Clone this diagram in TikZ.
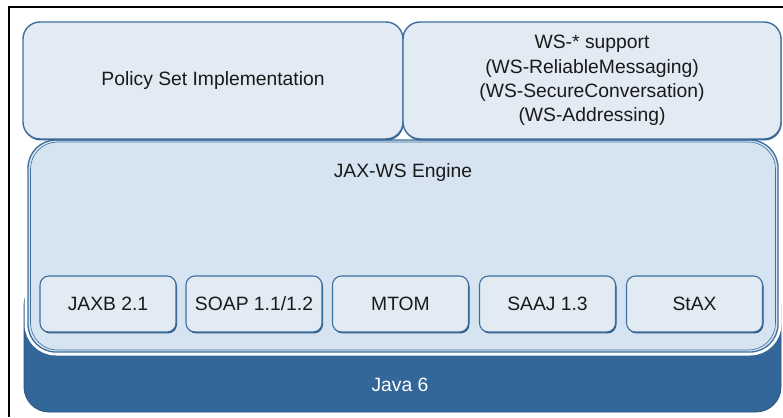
\documentclass[tikz,border=0pt]{standalone}
\usepackage{fontspec}
\setmainfont{Liberation Sans}
\usetikzlibrary{shadows}
\definecolor{boxfill}{HTML}{E2EAF4}
\definecolor{jaxfill}{HTML}{D6E4F1}
\definecolor{edge}{HTML}{3F6E9E}
\definecolor{edgedark}{HTML}{2A5580}
\definecolor{javablue}{HTML}{336699}
\definecolor{txt}{HTML}{1A1A1A}
\begin{document}
\begin{tikzpicture}[x=1pt,y=-1pt,
  every node/.style={inner sep=0pt, outer sep=0pt, text=txt, font=\fontsize{19.3}{24.3}\selectfont},
  topbox/.style={rectangle, fill=boxfill, draw=edge, line width=1.4pt, rounded corners=17pt,
    minimum width=#1, minimum height=117pt, align=center,
    drop shadow={shadow xshift=0.6pt, shadow yshift=-1.4pt, fill=edgedark, opacity=1}},
  smallbox/.style={rectangle, fill=boxfill, draw=edge, line width=1.1pt, rounded corners=9pt,
    minimum width=136pt, minimum height=56pt,
    drop shadow={shadow xshift=1pt, shadow yshift=-1.4pt, fill=edgedark, opacity=1}},
  engine/.style={rectangle, fill=jaxfill, draw=edge, line width=1.3pt, rounded corners=28pt,
    minimum width=750pt, minimum height=212pt},
  javabar/.style={rectangle, fill=javablue, draw=edgedark, line width=0.8pt, rounded corners=25pt,
    minimum width=757pt, minimum height=132pt},
  label/.style={text=txt}
]
\useasboundingbox (0,0) rectangle (783,417);
\fill[white] (0,0) rectangle (783,417);
% frame
\draw[line width=1.5pt, black] (783,7) -- (9,7) -- (9,417);
% Java 6 base
\node[javabar] (java) at (402.5,346) {};
% white outline around engine
\draw[white, line width=5pt, rounded corners=29pt] (27,140) rectangle (779,353);
% engine
\node[engine] (jax) at (403,246) {};
\draw[edge, line width=0.6pt, rounded corners=27pt] (30.5,142) rectangle (775.5,350);
\node[label] (jaxlbl) at (403,173) {JAX-WS Engine};
\node[text=white] (javalbl) at (400,385) {Java 6};
% top boxes
\node[topbox=380pt] (policy) at (213,80.5) {Policy Set Implementation};
\node[topbox=378pt] (ws) at (592,80.5) {WS-* support\\(WS-ReliableMessaging)\\(WS-SecureConversation)\\(WS-Addressing)};
% small boxes
\node[smallbox] (jaxb) at (108,304) {JAXB 2.1};
\node[smallbox] (soap) at (254,304) {SOAP 1.1/1.2};
\node[smallbox] (mtom) at (400.5,304) {MTOM};
\node[smallbox] (saaj) at (547.5,304) {SAAJ 1.3};
\node[smallbox] (stax) at (694.5,304) {StAX};
\end{tikzpicture}
\end{document}
